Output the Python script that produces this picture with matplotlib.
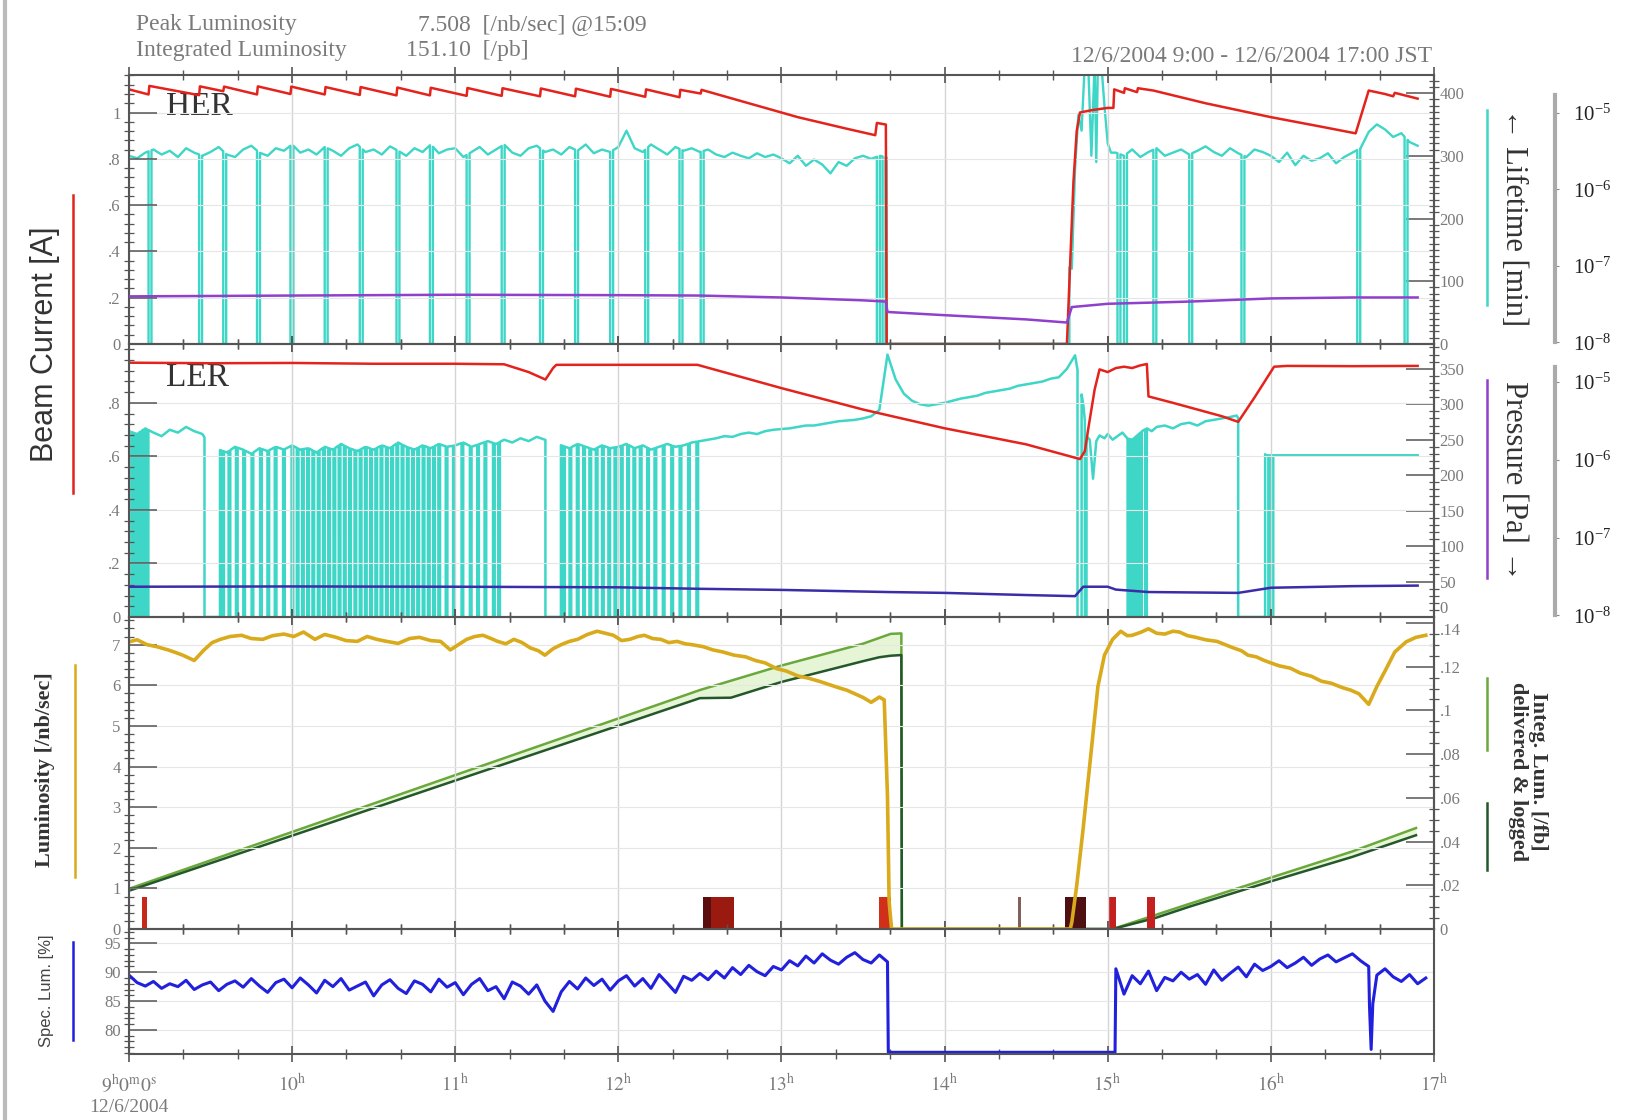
import numpy as np
import matplotlib.pyplot as plt
from matplotlib.ticker import MultipleLocator, FixedLocator, NullLocator
from matplotlib.lines import Line2D

plt.rcParams['font.family'] = ['Liberation Serif', 'DejaVu Serif']
plt.rcParams['mathtext.fontset'] = 'stix'

RED = '#e3231c'
CYAN = '#3ed6c6'
PURPLE = '#9040cc'
NAVY = '#3b2ca8'
GOLD = '#d9aa1c'
LGREEN = '#6aa83c'
DGREEN = '#24572a'
BLUE = '#2020dd'
GRAY = '#7a7a7a'
FRAME = '#555555'

# ---------------- HER ----------------
her_cur_t = [9.00, 9.12, 9.125, 9.43, 9.435, 9.578, 9.583, 9.785, 9.79, 9.99, 9.995, 10.2, 10.205,
             10.415, 10.42, 10.64, 10.645, 10.845, 10.85, 11.07, 11.075, 11.285, 11.29, 11.52, 11.525,
             11.735, 11.74, 11.95, 11.955, 12.165, 12.17, 12.375, 12.38, 12.505, 12.51, 12.8, 13.1, 13.4,
             13.575, 13.585, 13.64, 13.645, 14.75, 14.77, 14.79, 14.81, 14.83, 14.9, 15.0, 15.035, 15.04,
             15.1, 15.105, 15.18, 15.185, 15.28, 15.6, 16.0, 16.3, 16.52, 16.6, 16.7, 16.75, 16.76, 16.9]
her_cur = [1.100, 1.078, 1.115, 1.075, 1.113, 1.092, 1.112, 1.078, 1.113, 1.080, 1.112, 1.078, 1.110,
           1.076, 1.110, 1.074, 1.108, 1.074, 1.107, 1.072, 1.106, 1.072, 1.105, 1.070, 1.104,
           1.070, 1.103, 1.068, 1.102, 1.068, 1.100, 1.066, 1.098, 1.082, 1.098, 1.040, 0.980, 0.930,
           0.902, 0.955, 0.948, 0.0, 0.0, 0.35, 0.70, 0.92, 1.00, 1.01, 1.02, 1.02, 1.10,
           1.085, 1.105, 1.088, 1.105, 1.095, 1.040, 0.980, 0.940, 0.910, 1.095, 1.080, 1.070, 1.085, 1.060]

her_lt_t = list(np.round(np.arange(9.0, 13.551, 0.05), 3)) + [13.60, 13.64] + \
    [14.78, 14.80, 14.82, 14.84, 14.86, 14.88, 14.90, 14.92, 14.93, 14.94, 14.96, 14.98, 15.00, 15.02] + \
    list(np.round(np.arange(15.05, 16.901, 0.05), 3))
her_lt = [300, 296, 305, 310, 302, 308, 298, 312, 305, 300,
          306, 314, 302, 298, 310, 316, 305, 300, 312, 308,
          318, 305, 310, 302, 314, 308, 300, 312, 318, 306,
          310, 302, 315, 308, 300, 312, 306, 318, 304, 310,
          312, 298, 306, 314, 302, 310, 318, 305, 300, 312,
          316, 306, 310, 302, 314, 308, 318, 304, 310, 306,
          314, 340, 312, 306, 318, 310, 302, 314, 308, 312,
          306, 310, 302, 298, 305, 300, 296, 304, 298, 302,
          296, 288, 300, 284, 294, 286, 272, 290, 284, 296,
          300, 295,
          300, 298,
          120, 280, 365, 340, 450, 450, 300, 450, 290, 450, 450, 380, 320, 305,
          305, 300, 310, 298, 306, 312, 300, 305, 310, 302,
          308, 315, 306, 300, 312, 304, 298, 310, 306, 300,
          290, 305, 285, 300, 292, 296, 304, 288, 298, 305,
          312, 338, 350, 342, 330, 336, 322, 316]
her_lt_gaps = [(13.645, 14.765)]
her_lt_drops = [9.12, 9.43, 9.578, 9.785, 9.99, 10.2, 10.415, 10.64, 10.845, 11.07, 11.285, 11.52,
                11.735, 11.95, 12.165, 12.375, 12.505, 13.585, 13.62, 15.06, 15.10, 15.28, 15.50,
                15.82, 16.53, 16.82]

her_p_t = [9.0, 10.0, 11.0, 12.0, 12.5, 13.0, 13.5, 13.64, 13.65, 14.0, 14.5, 14.75, 14.78, 15.0,
           15.5, 16.0, 16.5, 16.9]
her_p = [4.0e-8, 4.1e-8, 4.2e-8, 4.15e-8, 4.1e-8, 3.87e-8, 3.55e-8, 3.42e-8, 2.5e-8, 2.27e-8,
         2.0e-8, 1.82e-8, 2.9e-8, 3.2e-8, 3.42e-8, 3.76e-8, 3.87e-8, 3.87e-8]

# ---------------- LER ----------------
ler_cur_t = [9.00, 9.50, 10.00, 10.50, 11.00, 11.30, 11.45, 11.553, 11.60, 11.62, 12.00, 12.485,
             13.00, 13.50, 14.00, 14.50, 14.83, 14.86, 14.88, 14.92, 14.95, 15.00, 15.05, 15.10,
             15.15, 15.20, 15.24, 15.25, 15.40, 15.55, 15.70, 15.80, 15.90, 16.02, 16.10, 16.50, 16.90]
ler_cur = [0.950, 0.948, 0.949, 0.946, 0.946, 0.944, 0.915, 0.887, 0.930, 0.942, 0.942, 0.942,
           0.855, 0.775, 0.705, 0.645, 0.590, 0.62, 0.70, 0.85, 0.925, 0.915, 0.930, 0.935,
           0.930, 0.940, 0.945, 0.824, 0.800, 0.775, 0.750, 0.729, 0.820, 0.935, 0.938, 0.937, 0.938]

ler_lt_t = list(np.round(np.arange(9.0, 14.801, 0.05), 3)) + \
    [14.85, 14.87, 14.89, 14.91, 14.93, 14.95, 14.98, 15.00, 15.03, 15.06, 15.09, 15.12, 15.15, 15.18,
     15.21, 15.24, 15.27, 15.30, 15.35, 15.40, 15.45, 15.50, 15.55, 15.60, 15.65, 15.70, 15.75, 15.79] + \
    [15.97, 16.90]
ler_lt = [262, 258, 266, 260, 255, 264, 260, 268, 262, 258,
          240, 236, 232, 240, 236, 230, 238, 234, 240, 236,
          242, 236, 238, 232, 240, 236, 244, 238, 234, 240,
          236, 242, 238, 246, 240, 236, 242, 238, 244, 240,
          242, 246, 240, 244, 248, 244, 250, 246, 252, 248,
          254, 250, 246, 242, 238, 244, 240, 236, 242, 238,
          240, 244, 238, 242, 236, 240, 244, 240, 242, 246,
          248, 250, 252, 255, 254, 258, 260, 258, 262, 264,
          265, 266, 268, 270, 270, 272, 274, 276, 277, 278,
          280, 283, 292, 370, 335, 315, 305, 300, 298, 300,
          302, 305, 308, 310, 312, 316, 318, 320, 322, 326,
          328, 330, 332, 336, 338, 350, 369,
          300, 255, 250, 195, 248, 256, 252, 258, 250, 255, 260, 252, 250, 256,
          262, 266, 262, 268, 270, 266, 272, 274, 270, 276, 278, 280, 282, 284,
          228, 228]
ler_lt_gaps = [(9.463, 9.558), (11.553, 11.648), (14.815, 14.84), (15.80, 15.965)]
ler_lt_drops = [9.013, 9.032, 9.051, 9.071, 9.090, 9.109,
                9.572, 9.611, 9.656, 9.701, 9.752, 9.804, 9.849, 9.894, 9.945, 9.997, 10.029, 10.061,
                10.093, 10.125, 10.158, 10.190, 10.222, 10.254, 10.286, 10.318, 10.350, 10.383, 10.415,
                10.447, 10.479, 10.511, 10.543, 10.576, 10.608, 10.640, 10.672, 10.704, 10.736, 10.768,
                10.801, 10.833, 10.865, 10.897, 10.942, 10.987, 11.039, 11.090, 11.135, 11.180, 11.232,
                11.264,
                11.662, 11.701, 11.746, 11.785, 11.823, 11.862, 11.900, 11.939, 11.977, 12.016, 12.055,
                12.093, 12.132, 12.177, 12.222, 12.273, 12.325, 12.376, 12.428, 12.479,
                14.86, 15.122, 15.135, 15.148, 15.160, 15.173, 15.186, 15.199, 15.23, 15.985, 16.005]

ler_p_t = [9.0, 10.0, 11.0, 12.0, 12.5, 13.0, 13.65, 14.0, 14.5, 14.8, 14.85, 15.0, 15.05, 15.25,
           15.8, 16.0, 16.5, 16.9]
ler_p = [2.34e-8, 2.36e-8, 2.34e-8, 2.3e-8, 2.2e-8, 2.13e-8, 2.0e-8, 1.95e-8, 1.83e-8, 1.77e-8,
         2.34e-8, 2.34e-8, 2.15e-8, 2.0e-8, 1.95e-8, 2.27e-8, 2.38e-8, 2.42e-8]

# ---------------- Luminosity ----------------
lum_t = [9.00, 9.05, 9.11, 9.17, 9.24, 9.29, 9.33, 9.40, 9.46, 9.51,
         9.56, 9.62, 9.69, 9.75, 9.82, 9.88, 9.95, 10.01, 10.07, 10.14,
         10.20, 10.27, 10.33, 10.40, 10.46, 10.52, 10.58, 10.65, 10.72, 10.78,
         10.85, 10.91, 10.97, 11.02, 11.07, 11.12, 11.17, 11.22, 11.26, 11.31,
         11.36, 11.41, 11.46, 11.51, 11.55, 11.60, 11.65, 11.70, 11.75, 11.81,
         11.87, 11.92, 11.97, 12.02, 12.07, 12.12, 12.16, 12.21, 12.26, 12.31,
         12.36, 12.41, 12.45, 12.52, 12.58, 12.64, 12.71, 12.78, 12.84, 12.90,
         12.97, 13.03, 13.10, 13.16, 13.23, 13.29, 13.35, 13.40, 13.45, 13.50,
         13.55, 13.60, 13.63, 13.65, 13.66, 13.675, 14.77, 14.78, 14.81, 14.85,
         14.88, 14.91, 14.94, 14.98, 15.03, 15.08, 15.12, 15.15, 15.20, 15.25,
         15.30, 15.35, 15.40, 15.44, 15.49, 15.54, 15.60, 15.67, 15.72, 15.77,
         15.82, 15.86, 15.91, 15.96, 16.00, 16.05, 16.12, 16.18, 16.25, 16.31,
         16.37, 16.44, 16.49, 16.54, 16.60, 16.65, 16.70, 16.76, 16.83, 16.89,
         16.95]
lum = [7.07, 7.12, 7.00, 6.95, 6.87, 6.80, 6.74, 6.61, 6.87, 7.05,
       7.13, 7.20, 7.23, 7.15, 7.13, 7.22, 7.26, 7.20, 7.31, 7.13,
       7.25, 7.18, 7.10, 7.08, 7.20, 7.13, 7.08, 7.03, 7.15, 7.18,
       7.10, 7.08, 6.87, 7.00, 7.13, 7.20, 7.23, 7.15, 7.08, 7.02,
       7.13, 7.05, 6.92, 6.85, 6.74, 6.90, 7.00, 7.08, 7.13, 7.25,
       7.33, 7.28, 7.23, 7.10, 7.13, 7.20, 7.23, 7.15, 7.13, 7.05,
       7.08, 7.02, 7.00, 6.95, 6.87, 6.82, 6.74, 6.70, 6.61, 6.55,
       6.41, 6.35, 6.23, 6.18, 6.10, 6.02, 5.94, 5.88, 5.79, 5.70,
       5.58, 5.71, 5.64, 3.26, 0.68, 0.0, 0.0, 0.17, 1.07, 2.49,
       3.65, 4.81, 5.97, 6.74, 7.13, 7.33, 7.22, 7.23, 7.30, 7.39,
       7.28, 7.26, 7.33, 7.31, 7.22, 7.18, 7.12, 7.08, 7.00, 6.92,
       6.85, 6.74, 6.70, 6.61, 6.55, 6.48, 6.42, 6.30, 6.22, 6.10,
       6.05, 5.94, 5.88, 5.79, 5.53, 5.97, 6.35, 6.82, 7.07, 7.18,
       7.23]

# integrated luminosity [/fb], delivered and logged
del_t = [9.00, 10.00, 11.00, 12.00, 12.50, 13.00, 13.50, 13.67, 13.735, 13.738, 15.03, 15.50, 16.00,
         16.50, 16.89]
del_v = [0.0184, 0.0444, 0.0704, 0.0963, 0.1093, 0.1205, 0.1305, 0.1350, 0.1352, 0.0, 0.0, 0.0115,
         0.0235, 0.0355, 0.0462]
log_t = [9.00, 10.00, 11.00, 12.00, 12.50, 12.69, 13.00, 13.50, 13.60, 13.67, 13.735, 13.738, 15.03,
         15.29, 15.50, 16.00, 16.50, 16.89]
log_v = [0.0175, 0.0427, 0.0679, 0.0930, 0.1056, 0.1058, 0.1130, 0.1225, 0.1243, 0.1250, 0.1253, 0.0,
         0.0, 0.0050, 0.0102, 0.0218, 0.0330, 0.0429]

# status bars along the bottom of the luminosity panel
bar_start = [9.08, 12.52, 12.57, 13.60, 14.45, 14.74, 15.00, 15.24]
bar_end = [9.11, 12.57, 12.71, 13.67, 14.47, 14.87, 15.05, 15.29]
bar_color = ['#c8281c', '#5a0e0e', '#9a1a10', '#d0301a', '#806058', '#4e1010', '#c42020', '#c42020']
bar_top = 0.8

# ---------------- Specific luminosity [%] ----------------
spec_t1 = np.round(np.arange(9.0, 13.651, 0.05), 3)
spec1 = [89.5, 88.2, 87.6, 88.4, 87.2, 88.0, 87.5, 88.6, 87.0, 87.8,
         88.3, 86.8, 87.9, 88.5, 87.4, 88.9, 87.6, 86.5, 88.2, 88.8,
         87.3, 89.0, 87.8, 86.4, 88.6, 87.5, 88.9, 86.9, 87.6, 88.3,
         85.9, 87.8, 88.7, 87.2, 86.3, 88.5, 87.9, 86.6, 88.8, 87.4,
         88.2, 86.1, 87.9, 88.9, 86.8, 87.5, 85.4, 88.3, 87.6, 86.2,
         87.8, 85.0, 83.2, 86.6, 88.4, 87.1, 89.0, 87.7, 88.8, 86.9,
         88.5, 89.4, 87.6, 88.9, 87.2, 89.6, 88.1, 86.5, 89.3, 88.6,
         89.8, 88.7, 90.2, 89.0, 90.8, 89.6, 91.2, 90.1, 89.4, 91.0,
         90.4, 92.0, 91.1, 92.8, 91.6, 93.2, 92.1, 91.4, 92.6, 93.4,
         92.2, 91.6, 93.0, 91.8]
spec_off_t = [13.655, 15.045]
spec_off = [76.1, 76.1]
spec_t2 = np.round(np.arange(15.05, 16.951, 0.05), 3)
spec2 = [90.6, 86.2, 89.4, 88.0, 90.2, 86.8, 89.1, 88.5, 90.0, 88.8,
         89.6, 87.9, 90.4, 88.6, 89.8, 90.9, 89.2, 91.4, 90.3, 91.0,
         92.0, 90.8, 91.6, 92.6, 91.2, 92.3, 93.0, 91.8, 92.5, 93.2,
         92.0, 91.0, 89.5, 90.6, 89.2, 88.4, 89.6, 88.0, 89.0]
spec_dip_t = [16.605, 16.615, 16.625]
spec_dip = [84.0, 76.6, 84.5]


def lifetime_trace(t, v, drops=(), gaps=(), w=0.012):
    # baseline with injection drops to zero and beam-off gaps
    t = np.asarray(t, float)
    v = np.asarray(v, float)
    keep = np.ones(t.size, bool)
    extra = []
    for s, e in gaps:
        keep &= ~((t >= s) & (t <= e))
        extra += [(s - 1e-4, np.interp(s, t, v)), (s, 0.0), (e, 0.0), (e + 1e-4, np.interp(e, t, v))]
    for d in drops:
        keep &= ~((t >= d) & (t <= d + w))
        extra += [(d - 1e-4, np.interp(d, t, v)), (d, 0.0), (d + w, 0.0),
                  (d + w + 1e-4, np.interp(d + w, t, v))]
    pts = sorted(list(zip(t[keep], v[keep])) + extra)
    return np.array(pts).T


def style_panel(ax, ymajor, yminor):
    ax.set_xlim(9, 17)
    ax.xaxis.set_major_locator(MultipleLocator(1))
    ax.xaxis.set_minor_locator(MultipleLocator(1 / 3))
    ax.tick_params(axis='x', which='both', direction='inout', top=True, bottom=True, colors=FRAME,
                   labelcolor=GRAY, labelsize=14, labelbottom=False)
    ax.tick_params(axis='x', which='major', length=12, width=1.2)
    ax.tick_params(axis='x', which='minor', length=7, width=1)
    ax.yaxis.set_major_locator(ymajor)
    ax.yaxis.set_minor_locator(MultipleLocator(yminor))
    ax.tick_params(axis='y', which='both', colors=FRAME, labelcolor=GRAY, labelsize=12, pad=6)
    ax.tick_params(axis='y', which='major', direction='in', length=20, width=1.1)
    ax.tick_params(axis='y', which='minor', direction='inout', length=7, width=0.9)
    ax.grid(True, axis='x', which='major', color='#d4d4d4', lw=1)
    ax.grid(True, axis='y', which='major', color='#e6e6e6', lw=0.8)
    for s in ax.spines.values():
        s.set_color(FRAME)
        s.set_linewidth(1.5)
    ax.patch.set_visible(False)


def style_right(ax, major, minor):
    ax.yaxis.set_major_locator(major)
    ax.yaxis.set_minor_locator(MultipleLocator(minor))
    ax.tick_params(axis='y', which='both', colors=FRAME, labelcolor=GRAY, labelsize=12, pad=4)
    ax.tick_params(axis='y', which='major', direction='in', length=20, width=1.1)
    ax.tick_params(axis='y', which='minor', direction='inout', length=7, width=0.9)
    ax.tick_params(axis='x', which='both', bottom=False, top=False, labelbottom=False)
    for k in ['left', 'top', 'bottom']:
        ax.spines[k].set_visible(False)
    ax.spines['right'].set_color(FRAME)
    ax.spines['right'].set_linewidth(1.5)


def style_log(ax, top_bound):
    ax.set_yscale('log')
    ax.set_ylim(10 ** -8.02, 10 ** -4.51)
    ax.yaxis.set_major_locator(FixedLocator([1e-8, 1e-7, 1e-6, 1e-5]))
    ax.yaxis.set_minor_locator(NullLocator())
    for k in ['left', 'top', 'bottom']:
        ax.spines[k].set_visible(False)
    ax.spines['right'].set_position(('axes', 1.0927))
    ax.spines['right'].set_bounds(1e-8, top_bound)
    ax.spines['right'].set_color('#aaaaaa')
    ax.spines['right'].set_linewidth(3)
    ax.tick_params(axis='y', which='major', direction='out', length=3, color='#888888',
                   labelcolor='#222222', labelsize=15, pad=10)
    ax.tick_params(axis='x', which='both', bottom=False, top=False, labelbottom=False)


fig = plt.figure(figsize=(16.45, 11.2), dpi=100)
fig.patch.set_facecolor('white')
L, W = 0.0784, 0.7933
ax_her = fig.add_axes([L, 0.6929, W, 0.2397])
ax_ler = fig.add_axes([L, 0.4491, W, 0.2438])
ax_lum = fig.add_axes([L, 0.1705, W, 0.2786])
ax_spec = fig.add_axes([L, 0.0589, W, 0.1116])

# ---- HER panel ----
her_lt_ax = ax_her.twinx()
her_p_ax = ax_her.twinx()
her_lt_ax.set_zorder(1)
ax_her.set_zorder(2)
her_p_ax.set_zorder(3)
style_panel(ax_her, FixedLocator([0, 0.2, 0.4, 0.6, 0.8, 1.0]), 0.04)
ax_her.set_ylim(0, 1.16)
ax_her.set_yticklabels(['0', '.2', '.4', '.6', '.8', '1'])
tx, ty = lifetime_trace(her_lt_t, her_lt, her_lt_drops, her_lt_gaps, w=0.018)
her_lt_ax.plot(tx, ty, color=CYAN, lw=1.7)
her_lt_ax.set_ylim(0, 428)
style_right(her_lt_ax, FixedLocator([0, 100, 200, 300, 400]), 10)
ax_her.plot(her_cur_t, her_cur, color=RED, lw=1.8)
ax_her.text(0.028, 0.883, 'HER', transform=ax_her.transAxes, fontsize=24, color='#333333',
            va='center', zorder=1)
her_p_ax.plot(her_p_t, her_p, color=PURPLE, lw=1.8)
style_log(her_p_ax, 10 ** -4.77)

# ---- LER panel ----
ler_lt_ax = ax_ler.twinx()
ler_p_ax = ax_ler.twinx()
ler_lt_ax.set_zorder(1)
ax_ler.set_zorder(2)
ler_p_ax.set_zorder(3)
style_panel(ax_ler, FixedLocator([0, 0.2, 0.4, 0.6, 0.8]), 0.04)
ax_ler.set_ylim(0, 1.02)
ax_ler.set_yticklabels(['0', '.2', '.4', '.6', '.8'])
tx, ty = lifetime_trace(ler_lt_t, ler_lt, ler_lt_drops, ler_lt_gaps, w=0.01)
ler_lt_ax.plot(tx, ty, color=CYAN, lw=1.8)
ler_lt_ax.set_ylim(0, 385)
style_right(ler_lt_ax, FixedLocator([0, 50, 100, 150, 200, 250, 300, 350]), 10)
ler_lt_ax.yaxis.get_major_ticks()[0].label2.set_verticalalignment('bottom')
ax_ler.plot(ler_cur_t, ler_cur, color=RED, lw=1.8)
ax_ler.text(0.028, 0.875, 'LER', transform=ax_ler.transAxes, fontsize=24, color='#333333',
            va='center', zorder=1)
ler_p_ax.plot(ler_p_t, ler_p, color=NAVY, lw=1.8)
style_log(ler_p_ax, 10 ** -4.8)

# ---- Luminosity panel ----
int_ax = ax_lum.twinx()
int_ax.set_zorder(1)
ax_lum.set_zorder(2)
style_panel(ax_lum, MultipleLocator(1), 0.2)
ax_lum.set_ylim(0, 7.68)
grid_t = np.union1d(del_t, log_t)
int_ax.fill_between(grid_t, np.interp(grid_t, log_t, log_v), np.interp(grid_t, del_t, del_v),
                    color='#e6f5d6', lw=0)
int_ax.plot(del_t, del_v, color=LGREEN, lw=1.8)
int_ax.plot(log_t, log_v, color=DGREEN, lw=1.8)
int_ax.set_ylim(0, 0.1427)
style_right(int_ax, FixedLocator([0, 0.02, 0.04, 0.06, 0.08, 0.10, 0.12, 0.14]), 0.005)
int_ax.set_yticklabels(['0', '.02', '.04', '.06', '.08', '.1', '.12', '.14'])
int_ax.yaxis.get_major_ticks()[-1].label2.set_verticalalignment('top')
for s, e, c in zip(bar_start, bar_end, bar_color):
    ax_lum.bar(s, bar_top, width=e - s, align='edge', color=c, lw=0)
ax_lum.plot(lum_t, lum, color=GOLD, lw=2.6)

# ---- Specific luminosity panel ----
style_panel(ax_spec, FixedLocator([80, 85, 90, 95]), 1)
ax_spec.set_ylim(75.8, 97.5)
spec_t = np.concatenate([spec_t1, spec_off_t, spec_t2, spec_dip_t])
spec_v = np.concatenate([spec1, spec_off, spec2, spec_dip])
order = np.argsort(spec_t, kind='stable')
ax_spec.plot(spec_t[order], spec_v[order], color=BLUE, lw=2.2)
ax_spec.tick_params(axis='x', labelbottom=True, pad=8)
ax_spec.set_xticks(range(9, 18))
ax_spec.set_xticklabels([r'$9^{\rm h}0^{\rm m}0^{\rm s}$' + '\n12/6/2004'] +
                        [r'$%d^{\rm h}$' % h for h in range(10, 18)])

# ---- axis titles and indicator lines ----
fig.text(0.0272, 0.693, 'Beam Current [A]', rotation=90, ha='center', va='center', fontsize=22,
         family=['Liberation Sans', 'DejaVu Sans'], color='#333333')
fig.text(0.0272, 0.3125, 'Luminosity [/nb/sec]', rotation=90, ha='center', va='center', fontsize=16,
         fontweight='bold', color='#333333')
fig.text(0.028, 0.115, 'Spec. Lum. [%]', rotation=90, ha='center', va='center', fontsize=12,
         family=['Liberation Sans', 'DejaVu Sans'], color='#444444')
fig.text(0.9198, 0.806, '\u2190 Lifetime [min]', rotation=-90, ha='center', va='center', fontsize=22,
         color='#333333')
fig.text(0.9198, 0.571, 'Pressure [Pa] \u2192', rotation=-90, ha='center', va='center', fontsize=22,
         color='#333333')
fig.text(0.929, 0.311, 'Integ. Lum. [/fb]\ndelivered & logged', rotation=-90, ha='center', va='center',
         fontsize=16, fontweight='bold', color='#333333', linespacing=1.0)

indicators = [
    (0.0444, 0.826, 0.560, RED),
    (0.0456, 0.406, 0.217, GOLD),
    (0.0444, 0.159, 0.071, BLUE),
    (0.904, 0.902, 0.728, CYAN),
    (0.904, 0.661, 0.484, PURPLE),
    (0.904, 0.395, 0.330, LGREEN),
    (0.904, 0.283, 0.223, DGREEN),
]
for x, y0, y1, c in indicators:
    fig.add_artist(Line2D([x, x], [y0, y1], transform=fig.transFigure, color=c, lw=1.8))
fig.add_artist(Line2D([0.003, 0.003], [0, 1], transform=fig.transFigure, color='#bbbbbb', lw=3))

# ---- header ----
hdr = dict(fontsize=17, color=GRAY, va='center')
fig.text(0.0827, 0.978, 'Peak Luminosity', **hdr)
fig.text(0.254, 0.978, '7.508  [/nb/sec] @15:09', **hdr)
fig.text(0.0827, 0.955, 'Integrated Luminosity', **hdr)
fig.text(0.247, 0.955, '151.10  [/pb]', **hdr)
fig.text(0.8705, 0.95, '12/6/2004 9:00 - 12/6/2004 17:00 JST', ha='right', **hdr)

fig.savefig('out.png', dpi=100, facecolor='white')
